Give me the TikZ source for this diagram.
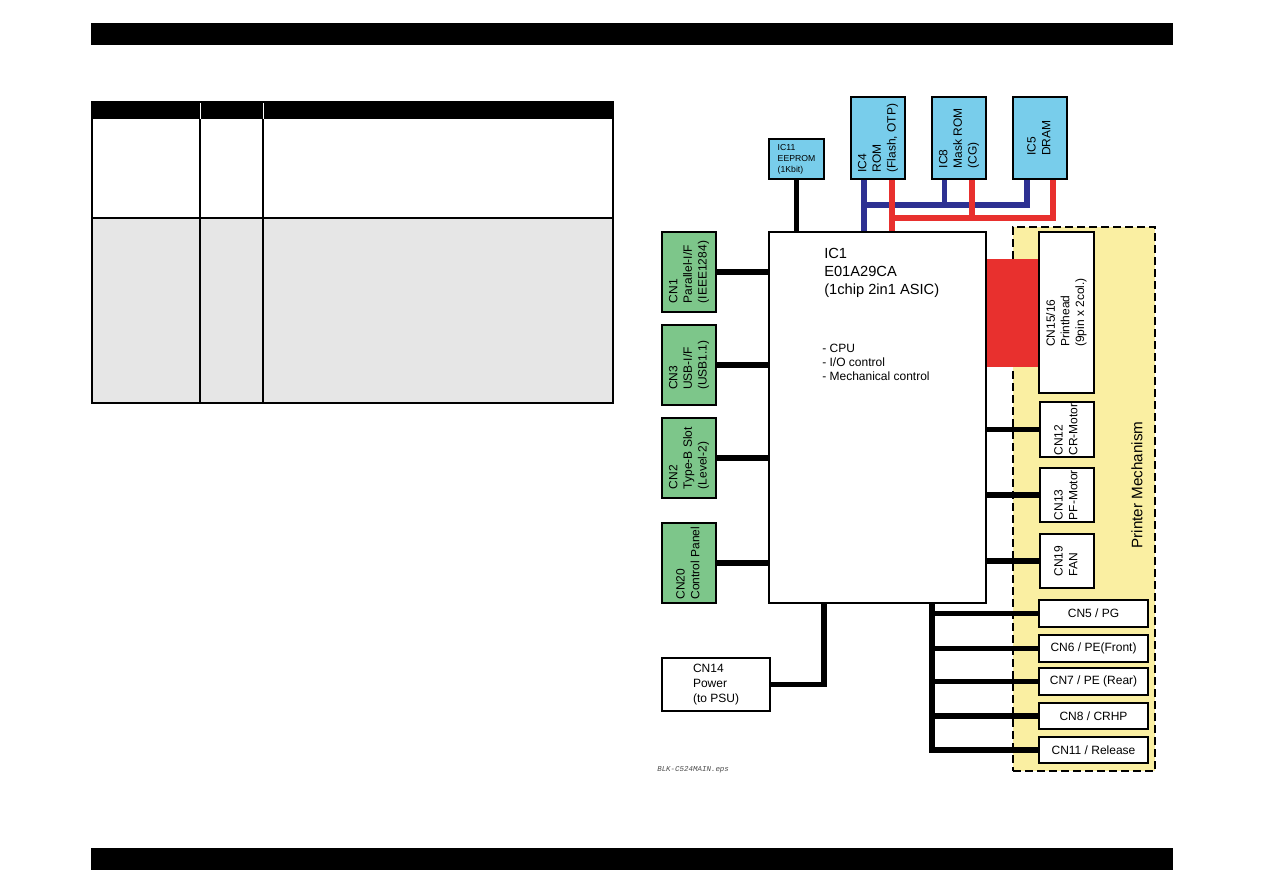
\documentclass[tikz,border=0pt]{standalone}
\usepackage{fontspec}
\setmainfont{Liberation Sans}
\newfontfamily\lblmono{Liberation Mono}
\usepackage{graphicx}
\definecolor{icblue}{HTML}{78CDEB}
\definecolor{cngreen}{HTML}{7DC68A}
\definecolor{mechyellow}{HTML}{FAEFA2}
\definecolor{busred}{HTML}{E8302E}
\definecolor{busblue}{HTML}{2E3192}
\definecolor{rowgray}{HTML}{E6E6E6}
\pgfdeclarelayer{bg}
\pgfdeclarelayer{mid}
\pgfsetlayers{bg,mid,main}
\tikzset{
  box/.style={draw=black, line width=1.5pt, inner sep=0pt, outer sep=0pt},
  icbox/.style={box, fill=icblue},
  cnbox/.style={box, fill=cngreen},
  wbox/.style={box, fill=white},
  mechbox/.style={draw=black, fill=mechyellow, line width=1.5pt, dash pattern=on 6pt off 3pt, inner sep=0pt, outer sep=0pt},
  bk/.style={line width=4.25pt, draw=black},
  bl/.style={line width=4.25pt, draw=busblue},
  rd/.style={line width=4.25pt, draw=busred},
  f9/.style={font=\fontsize{9}{11}\selectfont},
}
\newcommand\bx[7]{\node[#6, minimum width={(#4-#2)*0.75pt}, minimum height={(#5-#3)*0.75pt}] (#1) at ({(#2+#4)/2},{(#3+#5)/2}) {#7};}
\newcommand\rt[1]{\rotatebox{90}{\begin{tabular}{@{}l@{}}#1\end{tabular}}}
\newcommand\lt[1]{\begin{tabular}{@{}l@{}}#1\end{tabular}}
\begin{document}
\begin{tikzpicture}[x=0.75pt,y=-0.75pt]
\useasboundingbox (0,0) rectangle (1263,893);
% page bars
\fill[black] (91,23) rectangle (1173,45);
\fill[black] (91,848) rectangle (1173,870);
% table
\fill[rowgray] (92,218) rectangle (613,403);
\fill[black] (92,102) rectangle (613,119);
\draw[white, line width=0.75pt] (200,102) -- (200,119) (263,102) -- (263,119);
\draw[line width=0.9pt] (200,119) -- (200,403) (263,119) -- (263,403) (92,218) -- (613,218);
\draw[line width=1.5pt] (92,102) rectangle (613,403);
% printer mechanism area
\begin{pgfonlayer}{bg}
\bx{mech}{1013}{227}{1155}{771}{mechbox}{}
\end{pgfonlayer}
\node[rotate=90, font=\fontsize{11.4}{13}\selectfont] (pm) at (1137,485) {Printer Mechanism};
% memory ICs
\bx{ic11}{769}{139}{824}{179}{icbox, font=\fontsize{6.5}{8.2}\selectfont}{\lt{IC11\\EEPROM\\(1Kbit)}}
\bx{ic4}{851}{97}{905}{179}{icbox,f9}{\rt{IC4\\ROM\\(Flash, OTP)}}
\bx{ic8}{932}{97}{986}{179}{icbox,f9}{\rt{IC8\\Mask ROM\\(CG)}}
\bx{ic5}{1013}{97}{1067}{179}{icbox,f9}{\rt{IC5\\DRAM}}
% main ASIC
\bx{ic1}{769}{232}{986}{603}{wbox}{}
\node[anchor=base west, inner sep=0pt, font=\fontsize{11}{13.6}\selectfont] (ic1t) at (824,258) {\begin{tabular}[t]{@{}l@{}}IC1\\E01A29CA\\(1chip 2in1 ASIC)\end{tabular}};
\node[anchor=base west, inner sep=0pt, font=\fontsize{9}{10.5}\selectfont] (ic1f) at (822,352) {\begin{tabular}[t]{@{}l@{}}- CPU\\- I/O control\\- Mechanical control\end{tabular}};
% interface connectors
\bx{cn1}{662}{232}{716}{312}{cnbox,f9}{\rt{CN1\\Parallel-I/F\\(IEEE1284)}}
\bx{cn3}{662}{325}{716}{405}{cnbox,f9}{\rt{CN3\\USB-I/F\\(USB1.1)}}
\bx{cn2}{662}{418}{716}{498}{cnbox,f9}{\rt{CN2\\Type-B Slot\\(Level-2)}}
\bx{cn20}{662}{523}{716}{603}{cnbox,f9}{\rt{CN20\\Control Panel}}
\bx{cn14}{662}{658}{770}{711}{wbox,f9}{\lt{CN14\\Power\\(to PSU)}}
% mechanism connectors
\bx{ph}{1039}{232}{1094}{393}{wbox,f9}{\rt{CN15/16\\Printhead\\(9pin x 2col.)}}
\bx{cn12}{1040}{402}{1094}{457}{wbox,f9}{\rt{CN12\\CR-Motor}}
\bx{cn13}{1040}{468}{1094}{522}{wbox,f9}{\rt{CN13\\PF-Motor}}
\bx{cn19}{1040}{534}{1094}{588}{wbox,f9}{\rt{CN19\\FAN}}
\bx{cn5}{1039}{600}{1148}{627}{wbox,f9}{CN5 / PG}
\bx{cn6}{1039}{635}{1148}{662}{wbox,f9}{CN6 / PE(Front)}
\bx{cn7}{1039}{668}{1148}{695}{wbox,f9}{CN7 / PE (Rear)}
\bx{cn8}{1039}{703}{1148}{729}{wbox,f9}{CN8 / CRHP}
\bx{cn11}{1039}{737}{1148}{763}{wbox,f9}{CN11 / Release}
\node[anchor=west, inner sep=0pt, text=black!70, font=\lblmono\itshape\fontsize{5.6}{7}\selectfont] (lbl) at (657,770) {BLK-C524MAIN.eps};
% connectors
\begin{pgfonlayer}{mid}
\coordinate (bbus) at (0,205);
\coordinate (rbus) at (0,218);
\coordinate (b4) at ([xshift=-10.5pt]ic4.south);
\coordinate (r4) at ([xshift=10.5pt]ic4.south);
\coordinate (b8) at ([xshift=-11pt]ic8.south);
\coordinate (r8) at ([xshift=9.5pt]ic8.south);
\coordinate (b5) at ([xshift=-9.75pt]ic5.south);
\coordinate (r5) at ([xshift=9.75pt]ic5.south);
\draw[bk] (ic11.south) -- (ic11.south |- ic1.north);
\draw[bl] (b4) -- (b4 |- ic1.north);
\draw[bl] (b8) |- (b4 |- bbus);
\draw[bl] (b5) |- (b4 |- bbus);
\draw[rd] (r4) -- (r4 |- ic1.north);
\draw[rd] (r8) |- (r4 |- rbus);
\draw[rd] (r5) |- (r4 |- rbus);
\draw[bk] (cn1.east) -- (cn1.east -| ic1.west);
\draw[bk] (cn3.east) -- (cn3.east -| ic1.west);
\draw[bk] (cn2.east) -- (cn2.east -| ic1.west);
\draw[bk] (cn20.east) -- (cn20.east -| ic1.west);
\coordinate (pwr) at ([xshift=41.25pt]ic1.south west);
\draw[bk] (cn14.east) -| (pwr);
\coordinate (phT) at ([yshift=40.5pt]ph.west);
\coordinate (phB) at ([yshift=-40.5pt]ph.west);
\fill[busred] (phT -| ic1.east) rectangle (phB);
\draw[bk] (cn12.west -| ic1.east) -- (cn12.west);
\draw[bk] (cn13.west -| ic1.east) -- (cn13.west);
\draw[bk] (cn19.west -| ic1.east) -- (cn19.west);
\coordinate (sbus) at ([xshift=-40.5pt]ic1.south east);
\draw[bk] (sbus) |- (cn11.west);
\draw[bk] (cn5.west -| sbus) -- (cn5.west);
\draw[bk] (cn6.west -| sbus) -- (cn6.west);
\draw[bk] (cn7.west -| sbus) -- (cn7.west);
\draw[bk] (cn8.west -| sbus) -- (cn8.west);
\end{pgfonlayer}
\end{tikzpicture}
\end{document}
